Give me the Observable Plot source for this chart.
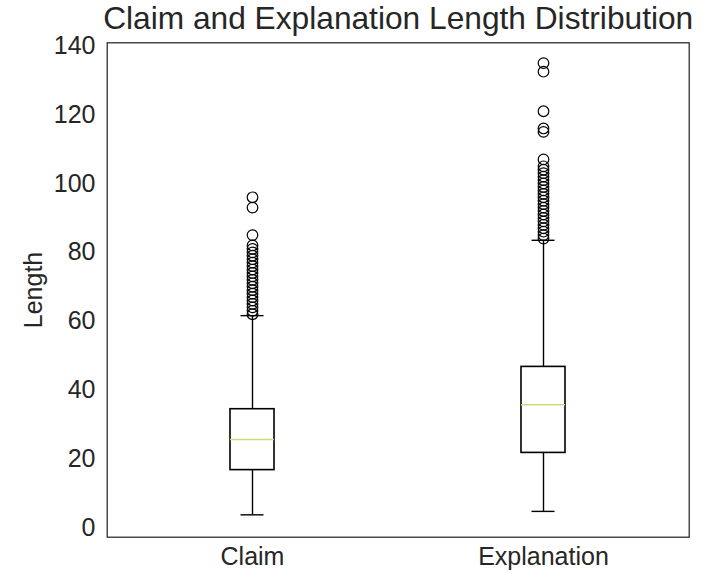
<!DOCTYPE html>
<html><head><meta charset="utf-8">
<script src="https://cdn.jsdelivr.net/npm/d3@7"></script>
<script src="https://cdn.jsdelivr.net/npm/@observablehq/plot@0.6"></script>
<style>body{margin:0;background:#fff}</style>
</head><body><div id="chart"></div>
<script>
const title = "Claim and Explanation Length Distribution";
const categories = ["Claim", "Explanation"];
const whiskerLow = [3.7, 4.7];
const q1 = [16.7, 21.7];
const median = [25.6, 35.7];
const q3 = [34.4, 46.7];
const whiskerHigh = [61.6, 83.5];
const claimOutliers = [62, 63, 64, 65, 66, 67, 68, 69, 70, 71, 72, 73, 74, 75, 76, 77, 78, 79, 80, 81, 82, 85, 93, 96];
const explanationOutliers = [84, 85, 86, 87, 88, 89, 90, 91, 92, 93, 94, 95, 96, 97, 98, 99, 100, 101, 102, 103, 104, 105, 107, 115, 116, 121, 132.5, 135];
const yTicks = [0, 20, 40, 60, 80, 100, 120, 140];

const boxes = categories.map((c, i) => ({cat: c, lo: whiskerLow[i], q1: q1[i], med: median[i], q3: q3[i], hi: whiskerHigh[i]}));
const outliers = [
  ...claimOutliers.map(v => ({cat: categories[0], v})),
  ...explanationOutliers.map(v => ({cat: categories[1], v}))
];

const chart = Plot.plot({
  width: 704, height: 573,
  marginTop: 42.3, marginBottom: 36.3, marginLeft: 106.7, marginRight: 15.3,
  style: {fontFamily: "'Liberation Sans', Arial, sans-serif", background: "#fff", color: "#262626", overflow: "visible"},
  x: {type: "band", domain: categories, paddingInner: 0.848, paddingOuter: 0.424},
  y: {domain: [-2.8, 140.9]},
  marks: [
    Plot.ruleX(boxes, {x: "cat", y1: "q3", y2: "hi", stroke: "#000", strokeWidth: 1.4}),
    Plot.ruleX(boxes, {x: "cat", y1: "lo", y2: "q1", stroke: "#000", strokeWidth: 1.4}),
    Plot.tickY(boxes, {x: "cat", y: "hi", insetLeft: 10.5, insetRight: 10.5, stroke: "#000", strokeWidth: 1.4}),
    Plot.tickY(boxes, {x: "cat", y: "lo", insetLeft: 10.5, insetRight: 10.5, stroke: "#000", strokeWidth: 1.4}),
    Plot.barY(boxes, {x: "cat", y1: "q1", y2: "q3", fill: "none", stroke: "#000", strokeWidth: 1.6}),
    Plot.tickY(boxes, {x: "cat", y: "med", stroke: "#c5de7f", strokeWidth: 1.6}),
    Plot.dot(outliers, {x: "cat", y: "v", r: 5.3, stroke: "#000", strokeWidth: 1.2, fill: "none"}),
    Plot.frame({stroke: "#262626", strokeWidth: 1.25}),
    Plot.axisX({tickSize: 0, tickPadding: 10, fontSize: 25, label: null}),
    Plot.axisY({ticks: yTicks, tickSize: 0, tickPadding: 11.7, fontSize: 25, label: "Length", labelAnchor: "center", labelArrow: "none", labelOffset: 83}),
    Plot.text([title], {text: d => d, frameAnchor: "top", dy: -13.5, lineAnchor: "bottom", fontSize: 31.7, fill: "#262626"})
  ]
});
document.getElementById("chart").appendChild(chart);
</script>
</body></html>
